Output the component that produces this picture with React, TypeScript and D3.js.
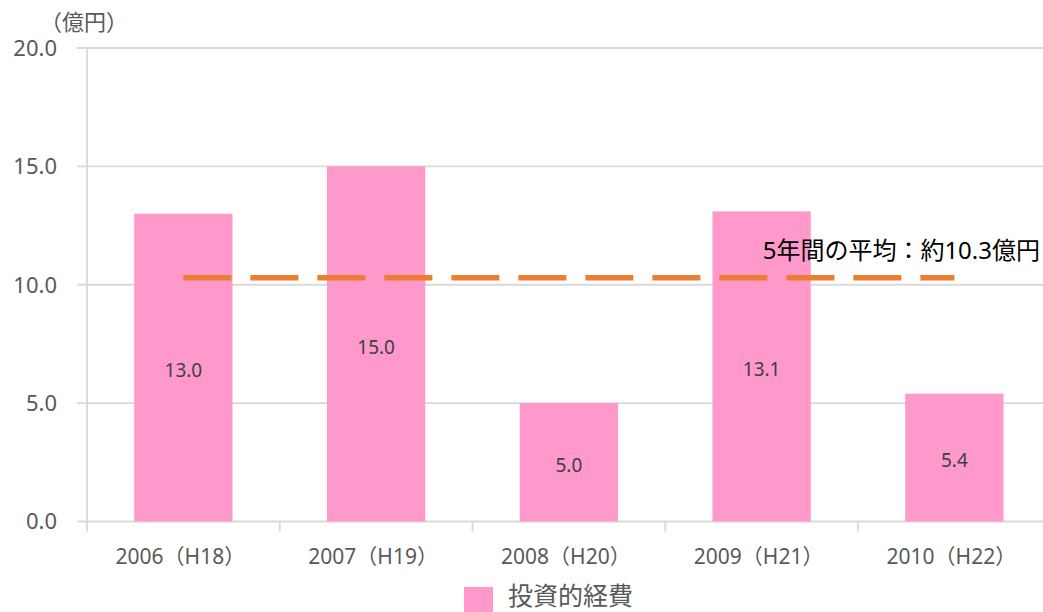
import * as d3 from 'd3';

const CATEGORIES = ['2006（H18）', '2007（H19）', '2008（H20）', '2009（H21）', '2010（H22）'];
const VALUES = [13.0, 15.0, 5.0, 13.1, 5.4];
const Y_TICKS = [0, 5, 10, 15, 20];
const AVERAGE = 10.3;
const AVERAGE_LABEL = '5年間の平均：約10.3億円';
const SERIES_NAME = '投資的経費';
const UNIT = '（億円）';

const VW = 1043;
const VH = 612;
const X0 = 87;
const BAND = 192.75;

const PINK = '#ff99cc';
const ORANGE = '#ed7d31';
const GRID = '#d9d9d9';
const TEXT = '#595959';
const FONT = '"Noto Sans", "Noto Sans CJK JP", sans-serif';

const fmt = d3.format('.1f');

const xScale = d3.scaleBand<string>()
  .domain(CATEGORIES)
  .range([X0, X0 + BAND * CATEGORIES.length])
  .padding(0);

const yScale = d3.scaleLinear()
  .domain([0, 20])
  .range([521.5, 48]);

const bw = xScale.bandwidth();
const barW = bw * 0.51;

export default function App() {
  const y0 = yScale(0);
  const firstC = xScale(CATEGORIES[0])! + bw / 2;
  const lastC = xScale(CATEGORIES[CATEGORIES.length - 1])! + bw / 2;

  return (
    <svg width={VW} height={VH} viewBox={`0 0 ${VW} ${VH}`}
      style={{ position: 'absolute', left: 0, top: 0, display: 'block', background: '#fff' }}
      fontFamily={FONT}>
      {/* gridlines + y labels */}
      {Y_TICKS.map(t => (
        <g key={t}>
          <line x1={77} x2={VW} y1={yScale(t)} y2={yScale(t)} stroke={GRID} strokeWidth={1.8} />
          <text x={57} y={yScale(t)} dy="0.36em" textAnchor="end" fontSize={22} fill={TEXT}>
            {fmt(t)}
          </text>
        </g>
      ))}

      {/* y axis */}
      <line x1={X0} x2={X0} y1={yScale(20)} y2={y0 + 10} stroke={GRID} strokeWidth={1.8} />

      {/* category ticks */}
      {CATEGORIES.map(c => (
        <line key={`t${c}`} x1={xScale(c)! + bw} x2={xScale(c)! + bw} y1={y0} y2={y0 + 10}
          stroke={GRID} strokeWidth={1.8} />
      ))}

      {/* bars */}
      {CATEGORIES.map((c, i) => (
        <rect key={`b${c}`} x={xScale(c)! + (bw - barW) / 2} y={yScale(VALUES[i])}
          width={barW} height={y0 - yScale(VALUES[i])} fill={PINK} />
      ))}

      {/* value labels */}
      {CATEGORIES.map((c, i) => (
        <text key={`v${c}`} x={xScale(c)! + bw / 2} y={(yScale(VALUES[i]) + y0) / 2 + 3}
          dy="0.36em" textAnchor="middle" fontSize={19} fill="#404040">
          {fmt(VALUES[i])}
        </text>
      ))}

      {/* average line */}
      <line x1={firstC} x2={lastC} y1={yScale(AVERAGE)} y2={yScale(AVERAGE)}
        stroke={ORANGE} strokeWidth={5.5} strokeDasharray="48 19" />
      <text x={1040} y={259} textAnchor="end" fontSize={24} fill="#000">{AVERAGE_LABEL}</text>

      {/* category labels */}
      {CATEGORIES.map(c => (
        <text key={`l${c}`} x={xScale(c)! + bw / 2 - 3} y={556} dy="0.36em" textAnchor="middle"
          fontSize={21} fill={TEXT}>
          {c}
        </text>
      ))}

      {/* unit */}
      <text x={40} y={22} dy="0.36em" fontSize={22} fill={TEXT}>{UNIT}</text>

      {/* legend */}
      <rect x={464} y={587} width={29} height={27} fill={PINK} />
      <text x={508} y={596} dy="0.36em" fontSize={25} fill={TEXT}>{SERIES_NAME}</text>
    </svg>
  );
}
